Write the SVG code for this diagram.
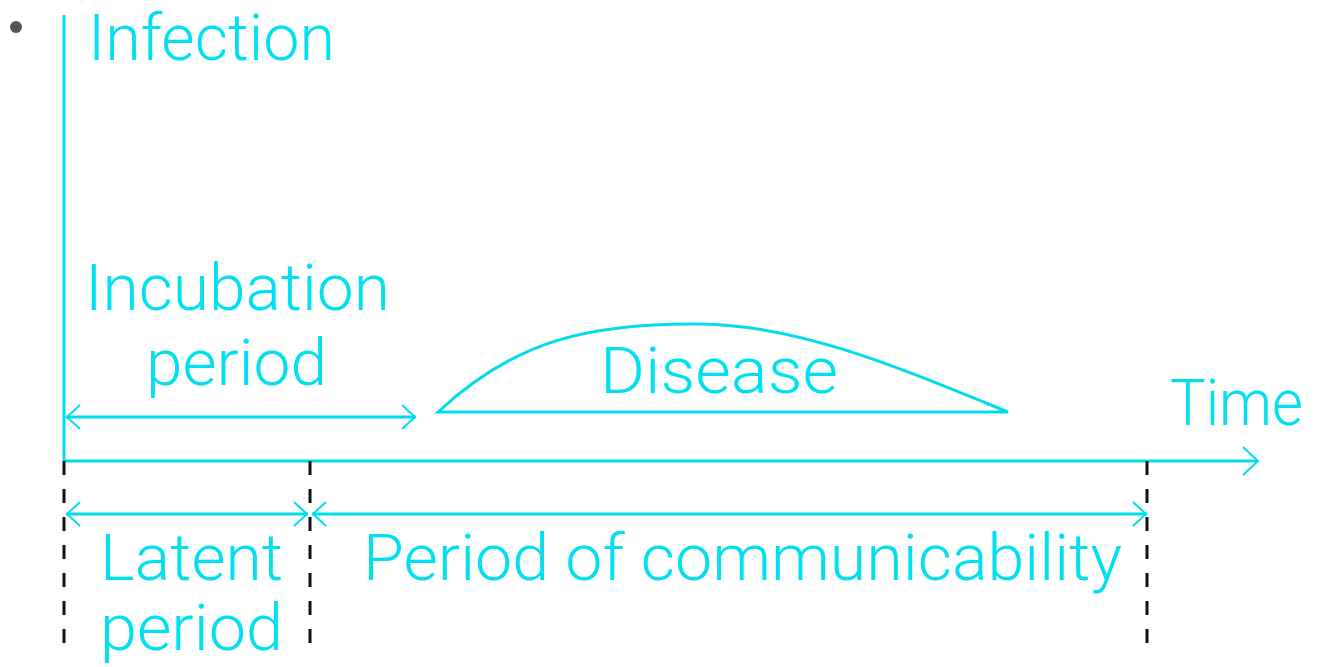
<svg xmlns="http://www.w3.org/2000/svg" width="1321" height="667" viewBox="0 0 1321 667">
<style>
.t{font-family:Roboto,"Liberation Sans",Arial,sans-serif;font-weight:300;font-size:65px;fill:#00E0F0;}
.ln{stroke:#00DCEE;stroke-width:3;fill:none;}
.hd{stroke:#00DCEE;stroke-width:2;fill:none;}
.dash{stroke:#111;stroke-width:3;stroke-dasharray:14 14;fill:none;}
</style>
<rect width="1321" height="667" fill="#fff"/>
<circle cx="16" cy="27" r="6" fill="#555"/>
<g id="connectors">
<line class="ln" x1="64" y1="15" x2="64" y2="461"/>
<line class="ln" x1="64" y1="461" x2="1258" y2="461"/>
<polyline class="hd" points="1243,447 1258,461 1243,475"/>
<line class="ln" x1="66" y1="417" x2="416" y2="417"/>
<polyline class="hd" points="80,405 67,417 80,429"/>
<polyline class="hd" points="402,405 415,417 402,429"/>
<line class="ln" x1="66" y1="514" x2="308" y2="514"/>
<polyline class="hd" points="80,502 67,514 80,526"/>
<polyline class="hd" points="294,502 307,514 294,526"/>
<line class="ln" x1="312" y1="514" x2="1147" y2="514"/>
<polyline class="hd" points="326,502 313,514 326,526"/>
<polyline class="hd" points="1133,502 1146,514 1133,526"/>
<line class="dash" x1="64" y1="461" x2="64" y2="645"/>
<line class="dash" x1="310" y1="461" x2="310" y2="645"/>
<line class="dash" x1="1147" y1="461" x2="1147" y2="645"/>
</g>
<g id="disease">
<path class="ln" d="M438,412 C515,340 590,323 700,324 C800,325 900,368 1008,412 Z"/>
<text class="t" x="600" y="393" textLength="238" lengthAdjust="spacingAndGlyphs">Disease</text>
</g>
<g id="infection"><text class="t" x="88" y="60" textLength="247" lengthAdjust="spacingAndGlyphs">Infection</text></g>
<g id="incubation"><text class="t" x="85" y="310" textLength="305" lengthAdjust="spacingAndGlyphs">Incubation</text><text class="t" x="146" y="385" textLength="181" lengthAdjust="spacingAndGlyphs">period</text></g>
<g id="time"><text class="t" x="1170" y="425" textLength="133" lengthAdjust="spacingAndGlyphs">Time</text></g>
<g id="latent"><text class="t" x="100" y="580" textLength="183" lengthAdjust="spacingAndGlyphs">Latent</text><text class="t" x="100" y="650" textLength="183" lengthAdjust="spacingAndGlyphs">period</text></g>
<g id="communicability"><text class="t" x="363" y="580" textLength="759" lengthAdjust="spacingAndGlyphs">Period of communicability</text></g>
</svg>
